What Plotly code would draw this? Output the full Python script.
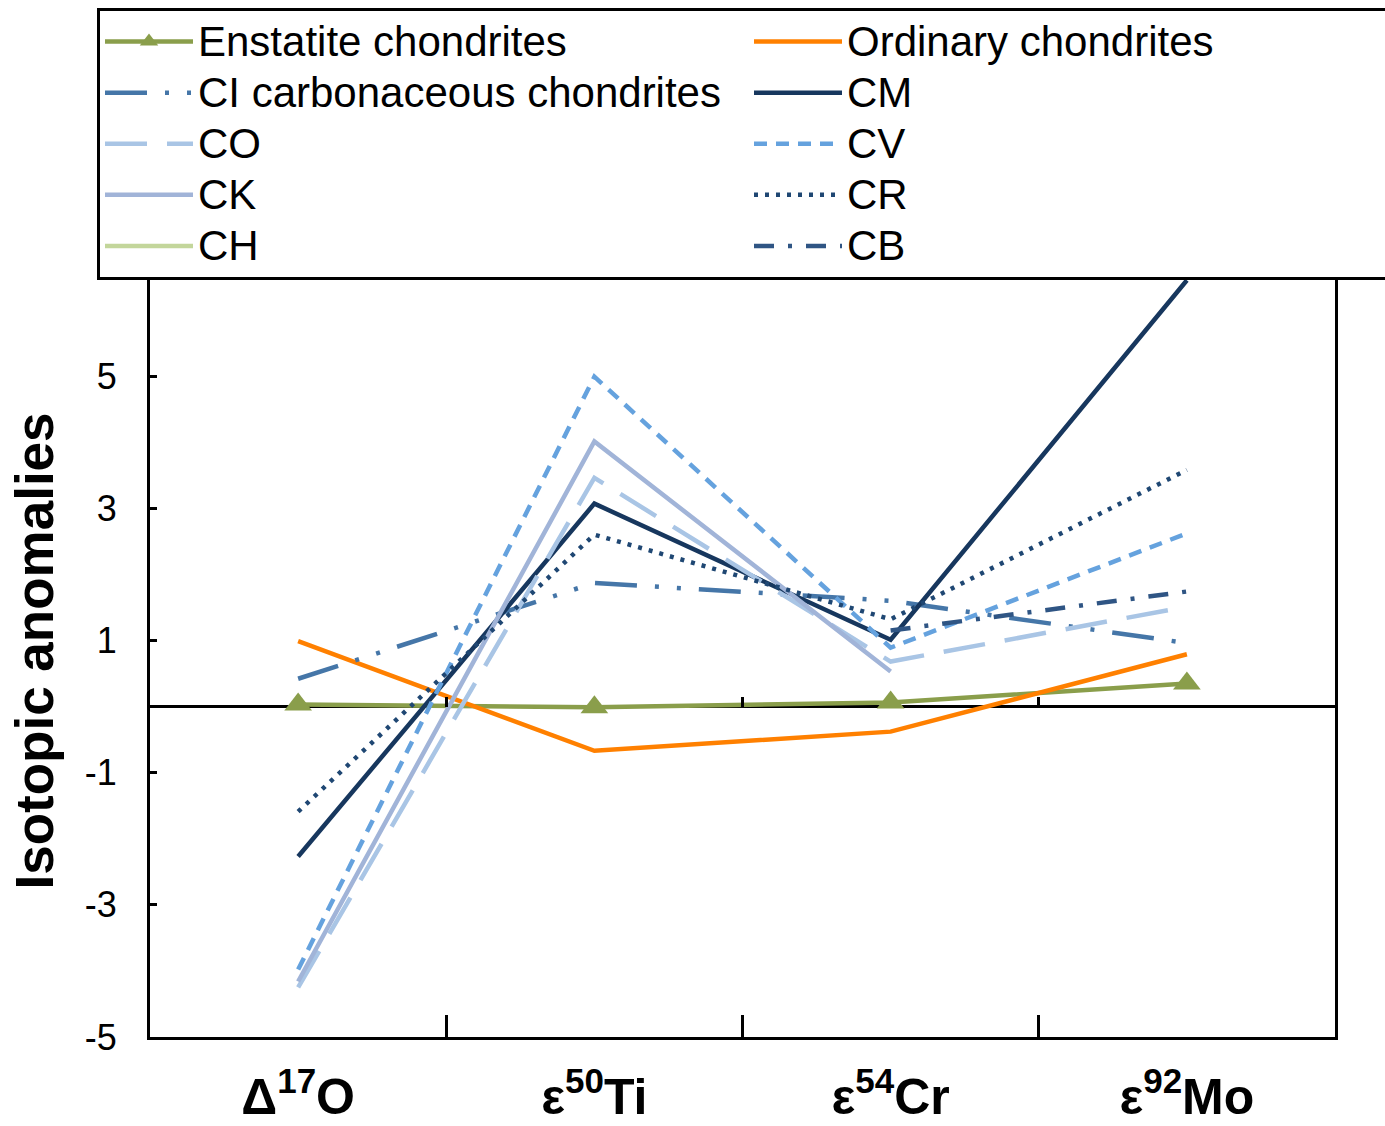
import plotly.graph_objects as go

# ---- data ----
categories = ["Δ<sup>17</sup>O", "ε<sup>50</sup>Ti", "ε<sup>54</sup>Cr", "ε<sup>92</sup>Mo"]

series_names = ["Enstatite chondrites", "Ordinary chondrites", "CI carbonaceous chondrites",
                "CM", "CO", "CV", "CK", "CR", "CH", "CB"]

enstatite = [0.03, -0.01, 0.06, 0.35]
ordinary = [0.99, -0.67, -0.38, 0.79]
ci = [0.42, 1.87, 1.60, 0.96]
cm = [-2.27, 3.07, 1.01, 6.45]
co = [-4.25, 3.46, 0.68, 1.51]
cv = [-3.98, 4.99, 0.89, 2.62]
ck = [-4.16, 4.01, 0.53, None]
cr = [-1.59, 2.60, 1.32, 3.58]
ch = [None, None, None, None]
cb = [None, None, 1.15, 1.74]

y_tickvals = [-5, -3, -1, 1, 3, 5]
y_ticktext = ["-5", "-3", "-1", "1", "3", "5"]

# ---- styles ----
values = [enstatite, ordinary, ci, cm, co, cv, ck, cr, ch, cb]
colors = ["#8A9E4B", "#FF8000", "#4576A8", "#17375E", "#A9C5E5",
          "#65A2DE", "#A1B4D8", "#1F4773", "#C3D69B", "#2F5584"]
dashes = ["solid", "solid", "42px,18px,4px,18px,4px,18px", "solid", "42px,20px",
          "13px,9px", "solid", "4px,7px", "solid", "20px,14px,4px,14px"]

FONT = "Liberation Sans, Arial, Helvetica, sans-serif"

fig = go.Figure()
for name, vals, col, dsh in zip(series_names, values, colors, dashes):
    is_e = name.startswith("Enstatite")
    fig.add_trace(go.Scatter(
        x=categories, y=vals,
        name='<span style="font-size:42px">' + name + '</span>',
        mode="lines+markers" if is_e else "lines",
        line=dict(color=col, width=4.5, dash=dsh),
        marker=dict(symbol="triangle-up", size=24, color=col) if is_e else None,
        connectgaps=False,
    ))

# ghost trace for the small ticks on the zero line
fig.add_trace(go.Scatter(x=[None], y=[None], xaxis="x2", showlegend=False,
                         hoverinfo="skip"))

ymin, ymax = -5, 6.68
fig.update_layout(
    width=1385, height=1126,
    margin=dict(l=150, r=50, t=265, b=89, autoexpand=False),
    paper_bgcolor="white", plot_bgcolor="white",
    font=dict(family=FONT, color="black"),
    showlegend=True,
    legend=dict(
        orientation="h",
        xref="paper", yref="paper",
        x=(97 - 150) / 1185, y=1 + (265 - 8) / 772,
        xanchor="left", yanchor="top",
        entrywidth=546, entrywidthmode="pixels",
        itemwidth=88,
        bordercolor="black", borderwidth=3, bgcolor="white",
        font=dict(size=37, family=FONT, color="black"),
        itemsizing="trace",
        traceorder="normal",
    ),
    xaxis=dict(
        type="category", categoryorder="array", categoryarray=categories,
        range=[-0.5, 3.5],
        tickson="boundaries", ticks="inside", ticklen=22, tickwidth=3, tickcolor="black",
        showline=True, linecolor="black", linewidth=3, mirror=True,
        showgrid=False, zeroline=False,
        tickfont=dict(size=50, family=FONT, color="black", weight="bold"),
        ticklabelstandoff=14,
    ),
    xaxis2=dict(
        type="linear", range=[-0.5, 3.5], overlaying="x", anchor="free",
        position=(0 - ymin) / (ymax - ymin),
        tickvals=[0.5, 1.5, 2.5], ticks="inside", ticklen=10, tickwidth=3, tickcolor="black",
        showticklabels=False, showline=False, showgrid=False, zeroline=False,
    ),
    yaxis=dict(
        range=[ymin, ymax],
        tickvals=y_tickvals, ticktext=y_ticktext,
        ticks="inside", ticklen=7, tickwidth=3, tickcolor="black",
        showline=True, linecolor="black", linewidth=3, mirror=True,
        showgrid=False,
        zeroline=True, zerolinecolor="black", zerolinewidth=3,
        tickfont=dict(size=36, family=FONT, color="black"),
        ticklabelstandoff=23,
        title=dict(text="Isotopic anomalies", standoff=15,
                   font=dict(size=53, family=FONT, color="black", weight="bold")),
    ),
)

fig.write_html("out.html")
